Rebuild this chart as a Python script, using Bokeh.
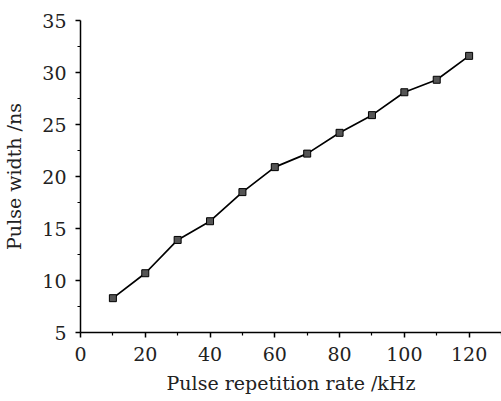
from bokeh.plotting import figure
from bokeh.models import FixedTicker, Range1d
from bokeh.embed import file_html
from bokeh.resources import INLINE

rate_khz = [10, 20, 30, 40, 50, 60, 70, 80, 90, 100, 110, 120]
pulse_width_ns = [8.3, 10.7, 13.9, 15.7, 18.5, 20.9, 22.2, 24.2, 25.9, 28.1, 29.3, 31.6]
x_ticks = [0, 20, 40, 60, 80, 100, 120]
y_ticks = [5, 10, 15, 20, 25, 30, 35]

FONT = "DejaVu Serif"

p = figure(width=501, height=401, output_backend="svg", toolbar_location=None,
           x_range=Range1d(0, 130), y_range=Range1d(5, 35))
p.min_border_left = 77
p.min_border_top = 20
p.min_border_right = 0
p.min_border_bottom = 69
p.outline_line_color = None
p.grid.visible = False
p.background_fill_color = "white"
p.border_fill_color = "white"

p.line(rate_khz, pulse_width_ns, line_color="black", line_width=1.7)
p.scatter(rate_khz, pulse_width_ns, marker="square", size=7,
          fill_color="#555555", line_color="black", line_width=1)

for ax, ticks in ((p.xaxis[0], x_ticks), (p.yaxis[0], y_ticks)):
    step = ticks[1] - ticks[0]
    minors = [t + step / 2 for t in ticks[:-1]] + [ticks[-1] + step / 2]
    ax.ticker = FixedTicker(ticks=ticks, minor_ticks=minors)
    ax.axis_line_color = "black"
    ax.axis_line_width = 1.5
    ax.major_tick_line_color = "black"
    ax.major_tick_line_width = 1.5
    ax.major_tick_out = 5
    ax.major_tick_in = 0
    ax.minor_tick_line_color = "black"
    ax.minor_tick_line_width = 1.2
    ax.minor_tick_out = 3
    ax.minor_tick_in = 0
    ax.major_label_text_font = FONT
    ax.major_label_text_font_size = "19px"
    ax.major_label_text_color = "#222222"
    ax.axis_label_text_font = FONT
    ax.axis_label_text_font_size = "19px"
    ax.axis_label_text_font_style = "normal"
    ax.axis_label_text_color = "#222222"

p.xaxis[0].axis_label = "Pulse repetition rate /kHz"
p.yaxis[0].axis_label = "Pulse width /ns"
p.xaxis[0].major_label_standoff = 9
p.xaxis[0].axis_label_standoff = 8
p.yaxis[0].major_label_standoff = 9
p.yaxis[0].axis_label_standoff = 14

open("out.html", "w").write(file_html(p, INLINE))
